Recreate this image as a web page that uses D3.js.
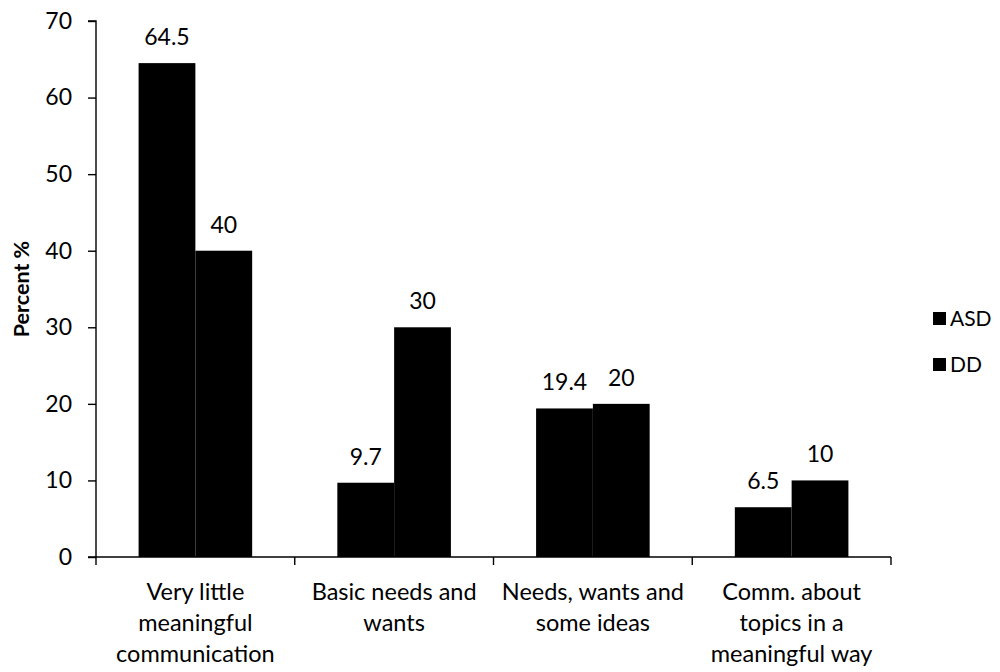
<!DOCTYPE html>
<html>
<head>
<meta charset="utf-8">
<script src="https://cdn.jsdelivr.net/npm/d3@7"></script>
<style>
  html, body { margin: 0; padding: 0; background: #fff; }
  svg text { font-family: Lato, "Open Sans", sans-serif; fill: #000; }
</style>
</head>
<body>
<svg id="chart" width="1000" height="672"></svg>
<script>
// Communication level categories (multi-line labels)
const categories = [
  ["Very little", "meaningful", "communication"],
  ["Basic needs and", "wants"],
  ["Needs, wants and", "some ideas"],
  ["Comm. about", "topics in a", "meaningful way"]
];
const seriesNames = ["ASD", "DD"];
const asdValues = [64.5, 9.7, 19.4, 6.5];
const ddValues = [40, 30, 20, 10];
const yTicks = [0, 10, 20, 30, 40, 50, 60, 70];

const svg = d3.select("#chart");
const plotLeft = 96, plotRight = 891, plotTop = 21, plotBottom = 557;

const catKeys = categories.map((c, i) => i);
const x = d3.scaleBand().domain(catKeys).range([plotLeft, plotRight]).paddingInner(0).paddingOuter(0);
const xInner = d3.scaleBand().domain(seriesNames).range([0, x.bandwidth()]).paddingInner(0).paddingOuter(0.75);
const y = d3.scaleLinear().domain([0, 70]).range([plotBottom, plotTop]);

const rows = catKeys.map(i => ({ i, values: [
  { s: "ASD", v: asdValues[i] },
  { s: "DD", v: ddValues[i] }
]}));

// Bars
const groups = svg.append("g").selectAll("g").data(rows).join("g")
  .attr("transform", d => `translate(${x(d.i)},0)`);
groups.selectAll("rect").data(d => d.values).join("rect")
  .attr("x", d => xInner(d.s))
  .attr("y", d => y(d.v))
  .attr("width", xInner.bandwidth())
  .attr("height", d => y(0) - y(d.v))
  .attr("fill", "#000");

// Value labels
groups.selectAll("text.val").data(d => d.values).join("text")
  .attr("class", "val")
  .attr("x", d => xInner(d.s) + xInner.bandwidth() / 2)
  .attr("y", d => y(d.v) - 18)
  .attr("text-anchor", "middle")
  .attr("font-size", 23)
  .text(d => d.v);

// Y axis
const yAxis = svg.append("g").attr("transform", `translate(${plotLeft},0)`)
  .call(d3.axisLeft(y).tickValues(yTicks).tickSize(8).tickPadding(16).tickFormat(d3.format("d")));
yAxis.selectAll("path, line").attr("stroke", "#000").attr("stroke-width", 1.4);
yAxis.select(".domain").attr("d", `M-8,${plotTop}H0V${plotBottom}H-8`);
yAxis.selectAll("text").attr("font-size", 23).style("font-family", "Lato, sans-serif");

// X axis with category boundary ticks
const xAxisG = svg.append("g");
xAxisG.append("line").attr("x1", plotLeft).attr("x2", plotRight).attr("y1", plotBottom).attr("y2", plotBottom)
  .attr("stroke", "#000").attr("stroke-width", 1.4);
const bounds = catKeys.map(i => x(i)).concat([x(catKeys[catKeys.length - 1]) + x.bandwidth()]);
xAxisG.selectAll("line.tk").data(bounds).join("line").attr("class", "tk")
  .attr("x1", d => d).attr("x2", d => d).attr("y1", plotBottom).attr("y2", plotBottom + 8)
  .attr("stroke", "#000").attr("stroke-width", 1.4);

// Category labels
const catLabels = svg.append("g").selectAll("text").data(rows).join("text")
  .attr("x", d => x(d.i) + x.bandwidth() / 2)
  .attr("y", 600)
  .attr("text-anchor", "middle")
  .attr("font-size", 23.5);
catLabels.selectAll("tspan").data(d => categories[d.i]).join("tspan")
  .attr("x", function () { return d3.select(this.parentNode).attr("x"); })
  .attr("dy", (d, k) => k === 0 ? 0 : 31)
  .text(d => d);

// Y axis title
svg.append("text")
  .attr("transform", `translate(29,${(plotTop + plotBottom) / 2}) rotate(-90)`)
  .attr("text-anchor", "middle")
  .attr("font-size", 21.5)
  .attr("font-weight", "bold")
  .text("Percent %");

// Legend
const legend = svg.append("g").selectAll("g").data(seriesNames).join("g")
  .attr("transform", (d, k) => `translate(933,${312 + k * 46})`);
legend.append("rect").attr("width", 13).attr("height", 13).attr("fill", "#000");
legend.append("text").attr("x", 17).attr("y", 14).attr("font-size", 21).text(d => d);
</script>
</body>
</html>
